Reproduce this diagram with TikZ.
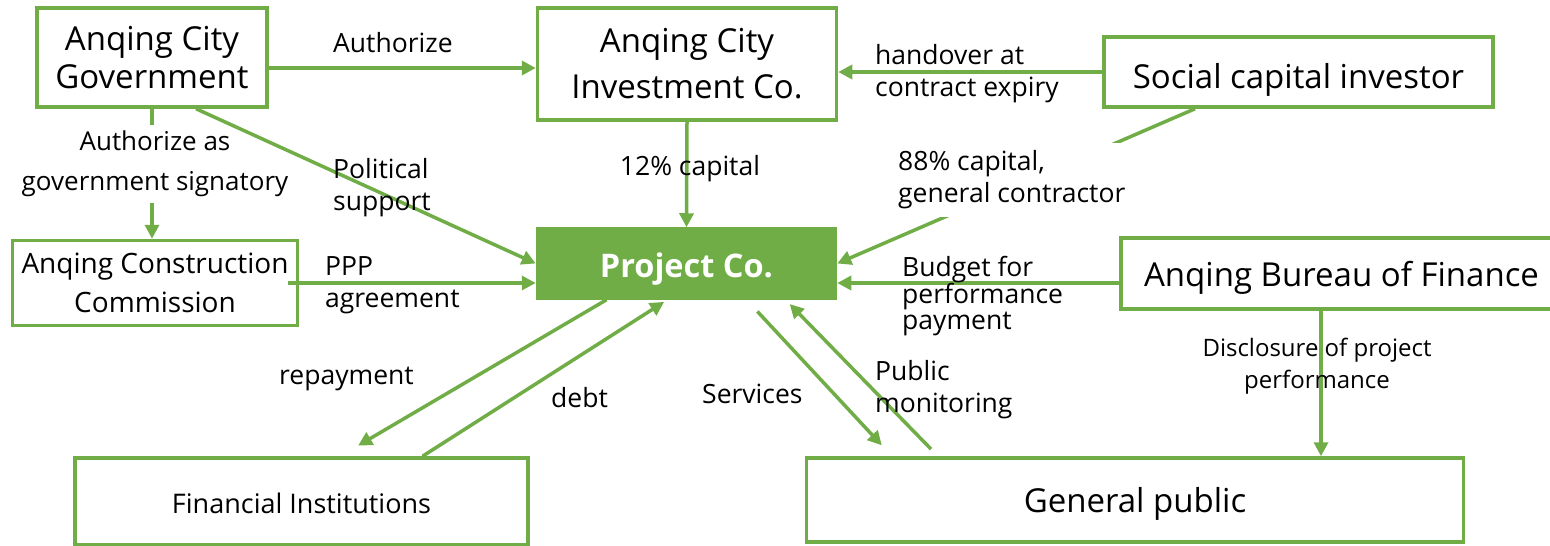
\documentclass[tikz,border=0pt]{standalone}
\usepackage{fontspec}
\setmainfont{Open Sans}
\usetikzlibrary{arrows.meta}
\definecolor{pgreen}{HTML}{70AD47}

\begin{document}
\begin{tikzpicture}[x=1pt,y=-1pt,
  box/.style={draw=pgreen, line width=3.5pt, fill=white, inner sep=0pt, align=center},
  flow/.style={draw=pgreen, line width=3.5pt, -{Triangle[length=14pt,width=14pt]}},
  lbl/.style={inner sep=0pt, align=left, font=\fontsize{26.5}{32}\selectfont}]
\useasboundingbox (0,0) rectangle (1550,546);

% Boxes
\node[box, minimum width=230pt, minimum height=99pt, font=\fontsize{33}{38}\selectfont] (gov) at (152,57.5) {Anqing City\\Government};
\node[box, minimum width=299pt, minimum height=112pt, font=\fontsize{33}{46}\selectfont] (cityinv) at (687,64) {Anqing City\\Investment Co.};
\node[box, minimum width=389pt, minimum height=70pt, text height=32pt, text depth=0pt, font=\fontsize{33}{38}\selectfont] (social) at (1298.5,72) {Social capital investor};
\node[box, minimum width=285pt, minimum height=85pt, font=\fontsize{28}{39}\selectfont] (constr) at (155,283) {Anqing Construction\\Commission};
\node[box, fill=pgreen, text=white, minimum width=298pt, minimum height=69pt, text height=27pt, text depth=0pt, font=\bfseries\fontsize{32.5}{34}\selectfont] (project) at (686.5,263.5) {Project Co.};
\node[box, minimum width=441pt, minimum height=71pt, text height=26pt, text depth=0pt, font=\fontsize{33}{38}\selectfont] (bureau) at (1341.5,273.5) {Anqing Bureau of Finance};
\node[box, minimum width=453pt, minimum height=87pt, text height=23pt, text depth=0pt, font=\fontsize{27}{30}\selectfont] (fininst) at (301.5,501.5) {Financial Institutions};
\node[box, minimum width=657pt, minimum height=84pt, text height=24pt, text depth=0pt, font=\fontsize{33}{38}\selectfont] (public) at (1135,500) {General public};

% Arrows
\draw[flow] (gov.east |- 0,68) -- (cityinv.west |- 0,68);
\draw[flow] (gov.south) -- (gov.south |- constr.north);
\node[lbl, align=center, fill=white, inner ysep=6pt, font=\fontsize{26}{40}\selectfont] (signlbl) at (155,164) {Authorize as\\government signatory};
\draw[flow] ([xshift=44pt]gov.south) -- (project.west);
\draw[flow] ([xshift=-11pt]constr.east) -- (project.west |- constr.east);
\draw[flow] (cityinv.south) -- (project.north);
\draw[flow] (social.west) -- (social.west -| cityinv.east);
\draw[flow] ([xshift=-103.5pt]social.south) -- (project.east);
\draw[flow] (bureau.west |- 0,283) -- (project.east |- 0,283);
\coordinate (disc) at ([xshift=-20.5pt]bureau.south);
\draw[flow] (disc) -- (disc |- public.north);
\draw[flow, shorten >=21pt] ([xshift=-80pt]project.south) -- ([xshift=38.5pt]fininst.north);
\draw[flow, shorten >=4pt] ([xshift=121pt]fininst.north) -- ([xshift=-19pt]project.south);
\draw[flow, shorten <=16pt, shorten >=15pt] ([xshift=60pt]project.south) -- ([xshift=-243pt]public.north);
\draw[flow, shorten <=10pt, shorten >=6pt] ([xshift=-197pt]public.north) -- ([xshift=99pt]project.south);

% Text Node
\node[lbl, anchor=west] (authlbl) at (333,43) {Authorize};
\node[lbl, anchor=west] (pollbl) at (333,188) {Political\\support};
\node[lbl] (caplbl) at (690,169) {12\% capital};
\node[lbl, anchor=west] (handlbl) at (875,74) {handover at\\contract expiry};
\node[lbl, anchor=west, fill=white, inner ysep=8pt] (contrlbl) at (898,180) {88\% capital,\\general contractor};
\node[lbl, anchor=west] (ppplbl) at (325,285) {PPP\\agreement};
\node[lbl, anchor=west, font=\fontsize{26.5}{26}\selectfont] (budgetlbl) at (902,296) {Budget for\\performance\\payment};
\node[lbl, align=center, font=\fontsize{24}{32}\selectfont] (disclbl) at (1317,366) {Disclosure of project\\performance};
\node[lbl, anchor=west] (repaylbl) at (279,379) {repayment};
\node[lbl, anchor=west] (debtlbl) at (551,398) {debt};
\node[lbl, anchor=west] (servlbl) at (702,394) {Services};
\node[lbl, anchor=west] (monlbl) at (875,390) {Public\\monitoring};

\end{tikzpicture}
\end{document}
